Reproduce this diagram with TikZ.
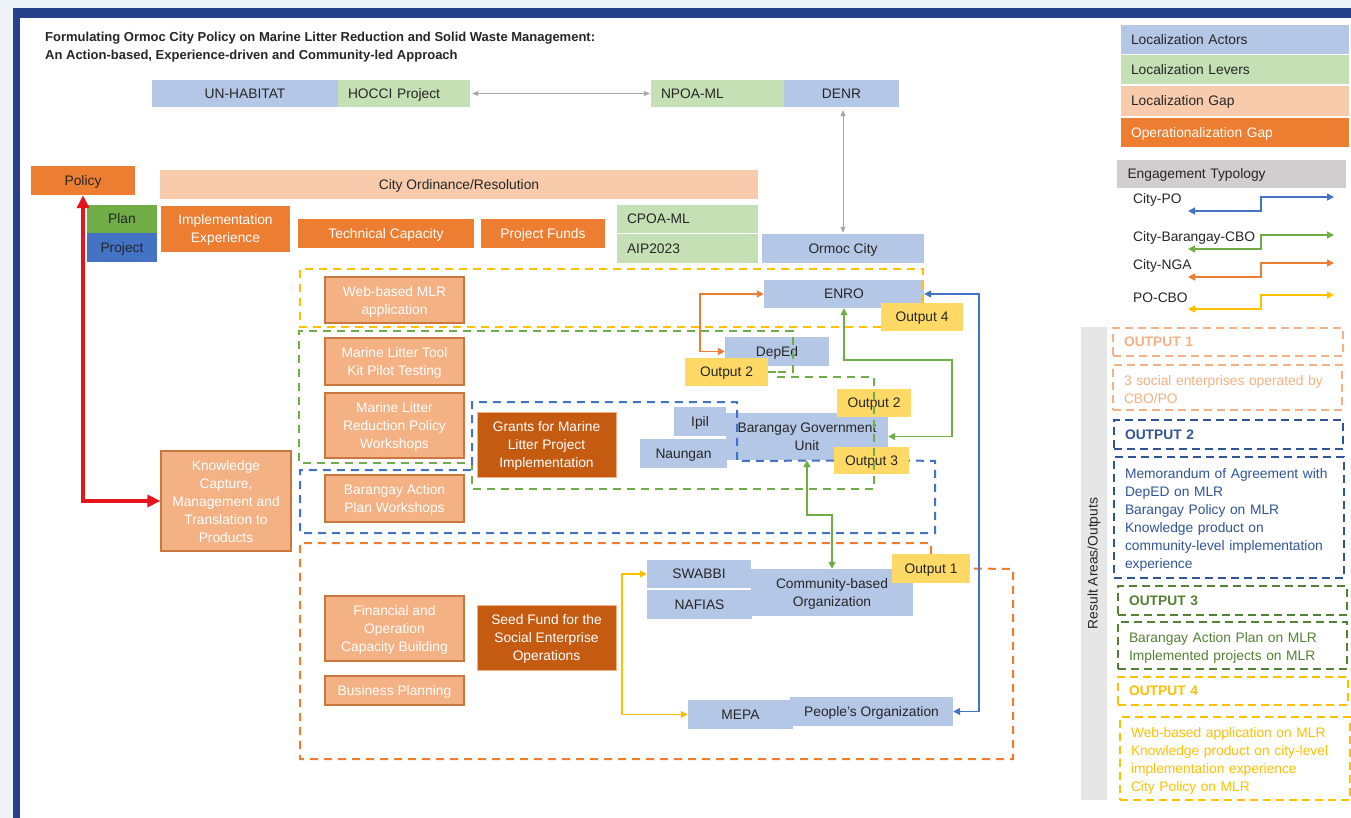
\documentclass[tikz,border=0pt]{standalone}
\usepackage{fontspec}
\setmainfont{Liberation Sans}
\usetikzlibrary{arrows.meta}

\definecolor{actorblue}{HTML}{B4C7E7}
\definecolor{levergreen}{HTML}{C5E0B4}
\definecolor{gappeach}{HTML}{F8CBAD}
\definecolor{opgaporange}{HTML}{ED7D31}
\definecolor{actpeach}{HTML}{F4B183}
\definecolor{actedge}{HTML}{C9773F}
\definecolor{fundbrown}{HTML}{C55A11}
\definecolor{outyellow}{HTML}{FFD966}
\definecolor{plangreen}{HTML}{70AD47}
\definecolor{projblue}{HTML}{4472C4}
\definecolor{frameblue}{HTML}{27408B}
\definecolor{paleblue}{HTML}{EEF3F7}
\definecolor{typgray}{HTML}{D0CECE}
\definecolor{resgray}{HTML}{E7E6E6}
\definecolor{txtdark}{HTML}{262626}
\definecolor{poblue}{HTML}{4472C4}
\definecolor{cbgreen}{HTML}{70AD47}
\definecolor{ngaorange}{HTML}{ED7D31}
\definecolor{pcyellow}{HTML}{FFC000}
\definecolor{linkgray}{HTML}{A6A6A6}
\definecolor{redlink}{HTML}{E8141C}
\definecolor{regyellow}{HTML}{FFC000}
\definecolor{reggreen}{HTML}{70AD47}
\definecolor{regblue}{HTML}{4472C4}
\definecolor{regorange}{HTML}{ED7D31}
\definecolor{outonec}{HTML}{F4B183}
\definecolor{outtwoc}{HTML}{2F5597}
\definecolor{outthreec}{HTML}{548235}
\definecolor{outfourc}{HTML}{FFC000}

\tikzset{
  boxtext/.style={text depth=-0.5pt},
  actor/.style={boxtext, fill=actorblue, text=txtdark, align=center, inner sep=3pt},
  lever/.style={boxtext, fill=levergreen, text=txtdark, align=left, inner xsep=10pt},
  gapbar/.style={boxtext, fill=gappeach, text=txtdark, align=center},
  opgap/.style={boxtext, fill=opgaporange, text=white, align=center},
  activity/.style={boxtext, fill=actpeach, draw=actedge, line width=1.2pt, text=white, align=center},
  fund/.style={boxtext, fill=fundbrown, draw=actpeach, line width=0.6pt, text=white, align=center},
  outtag/.style={boxtext, fill=outyellow, text=txtdark, align=center},
  region/.style={line width=2pt, dash pattern=on 8pt off 6pt},
  outbox/.style={line width=1.8pt, dash pattern=on 8pt off 5pt, align=left, inner xsep=11pt, anchor=center},
  outlist/.style={outbox, execute at begin node={\rule{0pt}{15pt}}},
  outhead/.style={outbox, boxtext, minimum height=28, font=\bfseries\fontsize{13.8}{18}\selectfont},
  conn/.style={line width=1.6pt},
  legendbar/.style={boxtext, minimum width=228, text width=208, align=left, inner xsep=10pt}
}

\begin{document}
\begin{tikzpicture}[x=1pt, y=-1pt, >={Triangle[length=7pt,width=7pt]},
  every node/.style={font=\fontsize{13.8}{18}\selectfont}]
\useasboundingbox (0,0) rectangle (1351,818);
\fill[white] (0,0) rectangle (1351,818);
\fill[paleblue] (0,0) rectangle (1351,8);
\fill[paleblue] (0,0) rectangle (13,818);
\fill[frameblue] (13,8) rectangle (1351,18);
\fill[frameblue] (13,8) rectangle (20,818);

% title
\node[anchor=west, align=left, inner sep=0pt, text=txtdark, font=\bfseries\fontsize{13}{18}\selectfont] (title) at (45,47)
  {Formulating Ormoc City Policy on Marine Litter Reduction and Solid Waste Management:\\
   An Action-based, Experience-driven and Community-led Approach};

% national / external actors
\node[actor, minimum width=186, minimum height=27] (unhab) at (245,93.5) {UN-HABITAT};
\node[lever, minimum width=132, minimum height=27, text width=112] (hocci) at (404,93.5) {HOCCI Project};
\node[lever, minimum width=133, minimum height=27, text width=113] (npoa) at (717.5,93.5) {NPOA-ML};
\node[actor, minimum width=115, minimum height=27] (denr) at (841.5,93.5) {DENR};

% city level
\node[opgap, text=txtdark, minimum width=104, minimum height=29] (policy) at (83,180.5) {Policy};
\node[gapbar, minimum width=598, minimum height=29] (ordin) at (459,184.5) {City Ordinance/Resolution};
\node[boxtext, fill=plangreen, text=txtdark, minimum width=70, minimum height=28] (plan) at (122,219) {Plan};
\node[boxtext, fill=projblue, text=txtdark, minimum width=70, minimum height=29] (proj) at (122,247.5) {Project};
\node[opgap, minimum width=129, minimum height=46] (implexp) at (225.5,229) {Implementation\\Experience};
\node[opgap, minimum width=176, minimum height=29] (techcap) at (386,233.5) {Technical Capacity};
\node[opgap, minimum width=124, minimum height=29] (pfunds) at (543,233.5) {Project Funds};
\node[lever, minimum width=141, minimum height=28, text width=121] (cpoa) at (687.5,219) {CPOA-ML};
\node[lever, minimum width=141, minimum height=29, text width=121] (aip) at (687.5,248.5) {AIP2023};
\node[actor, minimum width=162, minimum height=29] (ormoc) at (843,248.5) {Ormoc City};

% activities
\node[activity, minimum width=139, minimum height=46] (web) at (394.5,300) {Web-based MLR\\application};
\node[activity, minimum width=139, minimum height=47] (tool) at (394.5,361.5) {Marine Litter Tool\\Kit Pilot Testing};
\node[activity, minimum width=139, minimum height=65] (policyws) at (394.5,425.5) {Marine Litter\\Reduction Policy\\Workshops};
\node[activity, minimum width=139, minimum height=47] (bapw) at (394.5,498.5) {Barangay Action\\Plan Workshops};
\node[activity, minimum width=130, minimum height=100] (know) at (226,501) {Knowledge\\Capture,\\Management and\\Translation to\\Products};
\node[activity, minimum width=139, minimum height=65] (finance) at (394.5,628.5) {Financial and\\Operation\\Capacity Building};
\node[activity, minimum width=139, minimum height=29] (bizplan) at (394.5,690.5) {Business Planning};
\node[fund, minimum width=139, minimum height=65] (grants) at (546.5,444.5) {Grants for Marine\\Litter Project\\Implementation};
\node[fund, minimum width=139, minimum height=65] (seed) at (546.5,637.5) {Seed Fund for the\\Social Enterprise\\Operations};

% local actors
\node[actor, minimum width=160, minimum height=28] (enro) at (844,294) {ENRO};
\node[actor, minimum width=104, minimum height=29] (deped) at (777,351.5) {DepEd};
\node[actor, minimum width=52, minimum height=29] (ipil) at (700,421.5) {Ipil};
\node[actor, minimum width=87, minimum height=29] (naungan) at (683.5,453.5) {Naungan};
\node[actor, minimum width=162, minimum height=47] (bgu) at (807,436.5) {Barangay Government\\Unit};
\node[actor, minimum width=104, minimum height=28] (swabbi) at (699,574) {SWABBI};
\node[actor, minimum width=105, minimum height=29] (nafias) at (699.5,604.5) {NAFIAS};
\node[actor, minimum width=162, minimum height=47] (cbo) at (832,592.5) {Community-based\\Organization};
\node[actor, minimum width=105, minimum height=29] (mepa) at (740.5,714.5) {MEPA};
\node[actor, minimum width=163, minimum height=29] (po) at (871.5,711.5) {People's Organization};

% output tags
\node[outtag, minimum width=82, minimum height=28] (out4) at (922,317) {Output 4};
\node[outtag, minimum width=83, minimum height=28] (out2a) at (726.5,372) {Output 2};
\node[outtag, minimum width=74, minimum height=28] (out2b) at (874,403) {Output 2};
\node[outtag, minimum width=75, minimum height=27] (out3) at (871.5,460.5) {Output 3};
\node[outtag, minimum width=78, minimum height=29] (out1) at (931,568.5) {Output 1};

% result areas
\draw[region, regyellow] (out4.west |- 0,327) -- (300,327) -- (300,269) -- (923,269) -- (923,303);
\draw[region, reggreen] (out2a.east) -- (775,372) -- (775,377) -- (874,377) -- (874,489) -- (472,489) -- (472,463)
  -- (299,463) -- (299,331) -- (793,331) -- (793,372) -- (out2a.east);
\draw[region, regblue] (out3.west) -- (737,461) -- (737,402) -- (472,402) -- (472,470) -- (300,470) -- (300,533)
  -- (935,533) -- (935,461) -- (out3.east);
\draw[region, regorange] (out1.north -| 931,0) -- (931,543) -- (300,543) -- (300,759) -- (1013,759) -- (1013,569) -- (out1.east);

% links
\draw[linkgray, line width=1pt, <->, >={Triangle[length=6pt,width=5pt]}, shorten <=2pt, shorten >=1pt] (hocci.east) -- (npoa.west);
\draw[linkgray, line width=1pt, <->, >={Triangle[length=6pt,width=5pt]}, shorten <=3pt, shorten >=1pt] (denr.south -| ormoc.north) -- (ormoc.north);
\draw[redlink, line width=3.5pt, <->, >={Triangle[length=13pt,width=12pt]}] (policy.south) |- (know.west);
\draw[conn, ngaorange, <->] (enro.west) -- ++(-64,0) |- (deped.west);
\draw[conn, cbgreen, <->] (enro.south) -- ++(0,52) -- ++(108,0) |- (bgu.east);
\draw[conn, cbgreen, <->] (bgu.south) -- ++(0,55) -| (cbo.north);
\draw[conn, poblue, <->] (enro.east) -- ++(55,0) |- (po.east);
\draw[conn, pcyellow, <->] (swabbi.west) -- ++(-25,0) |- (mepa.west);

% legend
\node[actor, legendbar, minimum height=29] (lgactor) at (1235,39.5) {Localization Actors};
\node[lever, legendbar, minimum height=29] (lglever) at (1235,69.5) {Localization Levers};
\node[gapbar, legendbar, minimum height=30] (lggap) at (1235,101) {Localization Gap};
\node[opgap, legendbar, minimum height=29] (lgopgap) at (1235,132.5) {Operationalization Gap};
\node[fill=typgray, text=txtdark, legendbar, minimum width=229, minimum height=28] (lgtype) at (1231.5,174) {Engagement Typology};
\foreach \lbl/\ty/\col [count=\i] in {City-PO/200/poblue, City-Barangay-CBO/238/cbgreen, City-NGA/266/ngaorange, PO-CBO/298/pcyellow}{
  \node[anchor=west, inner sep=0pt, text=txtdark] (typ\i) at (1133,\ty) {\lbl};
  \draw[conn, \col, <->] (1188,{\ty+11}) -| (1261,{\ty-3}) -- (1334,{\ty-3});
}

% outputs
\node[fill=resgray, rotate=90, minimum width=473, minimum height=26, inner sep=0pt, text=txtdark] (resbar) at (1094,563.5) {Result Areas/Outputs};
\node[outhead, draw=outonec, text=outonec, minimum width=230, text width=208] (o1h) at (1228,342) {OUTPUT 1};
\node[outlist, draw=outonec, text=outonec, minimum width=229, minimum height=45, text width=207] (o1b) at (1227.5,387.5) {3 social enterprises operated by\\CBO/PO};
\node[outhead, draw=outtwoc, text=outtwoc, minimum width=229, minimum height=29, text width=207] (o2h) at (1228.5,434.5) {OUTPUT 2};
\node[outlist, draw=outtwoc, text=outtwoc, minimum width=230, minimum height=121, text width=208] (o2b) at (1229,517.5)
  {Memorandum of Agreement with\\DepED on MLR\\Barangay Policy on MLR\\Knowledge product on\\community-level implementation\\experience};
\node[outhead, draw=outthreec, text=outthreec, minimum width=229, minimum height=29, text width=207] (o3h) at (1232.5,600.5) {OUTPUT 3};
\node[outlist, draw=outthreec, text=outthreec, minimum width=229, minimum height=47, text width=207] (o3b) at (1232.5,645.5) {Barangay Action Plan on MLR\\Implemented projects on MLR};
\node[outhead, draw=outfourc, text=outfourc, minimum width=230, text width=208] (o4h) at (1233,691) {OUTPUT 4};
\node[outlist, draw=outfourc, text=outfourc, minimum width=230, minimum height=83, text width=208] (o4b) at (1235,758.5)
  {Web-based application on MLR\\Knowledge product on city-level\\implementation experience\\City Policy on MLR};
\end{tikzpicture}
\end{document}
